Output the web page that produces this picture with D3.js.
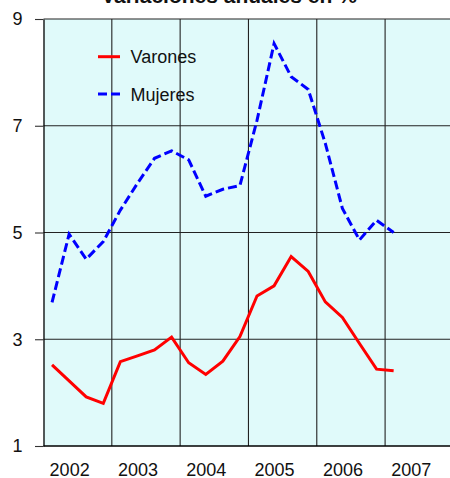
<!DOCTYPE html>
<html>
<head>
<meta charset="utf-8">
<script src="https://cdn.jsdelivr.net/npm/d3@7"></script>
<style>
  html, body { margin: 0; padding: 0; background: #fff; }
  svg { display: block; font-family: Arial, "Liberation Sans", sans-serif; }
</style>
</head>
<body>
<svg id="chart" width="450" height="478"></svg>
<script>
// Quarterly series, 2002-I to 2007-I (annual % change)
const quarters = [
  "2002-I","2002-II","2002-III","2002-IV",
  "2003-I","2003-II","2003-III","2003-IV",
  "2004-I","2004-II","2004-III","2004-IV",
  "2005-I","2005-II","2005-III","2005-IV",
  "2006-I","2006-II","2006-III","2006-IV",
  "2007-I"
];
const varones = [2.52, 2.22, 1.92, 1.80, 2.58, 2.69, 2.80, 3.04, 2.56, 2.34, 2.59,
                 3.05, 3.81, 4.00, 4.55, 4.27, 3.70, 3.41, 2.92, 2.44, 2.41];
const mujeres = [3.69, 4.97, 4.50, 4.83, 5.42, 5.92, 6.39, 6.53, 6.36, 5.68, 5.81,
                 5.88, 7.10, 8.54, 7.92, 7.68, 6.67, 5.45, 4.86, 5.23, 5.00];
const years = ["2002","2003","2004","2005","2006","2007"];
const yTicks = [1, 3, 5, 7, 9];
const title = "Variaciones anuales en %";

const svg = d3.select("#chart");
const plotLeft = 43.5, plotTop = 19, plotBottom = 446;
const qWidth = 17.08;
const plotRight = plotLeft + years.length * 4 * qWidth;

// x runs over quarter slots; each point sits in the middle of its slot
const x = d3.scaleLinear().domain([0, years.length * 4]).range([plotLeft, plotRight]);
const y = d3.scaleLinear().domain([1, 9]).range([plotBottom, plotTop]);

// plot background
svg.append("rect")
  .attr("x", plotLeft).attr("y", plotTop)
  .attr("width", plotRight - plotLeft).attr("height", plotBottom - plotTop)
  .attr("fill", "#e0fafa");

// horizontal grid
svg.append("g")
  .selectAll("line")
  .data(yTicks.slice(1))
  .join("line")
  .attr("x1", plotLeft).attr("x2", plotRight)
  .attr("y1", d => y(d)).attr("y2", d => y(d))
  .attr("stroke", "#222").attr("stroke-width", 1.1);

// vertical grid at year boundaries
svg.append("g")
  .selectAll("line")
  .data(d3.range(1, years.length))
  .join("line")
  .attr("x1", d => x(d * 4)).attr("x2", d => x(d * 4))
  .attr("y1", plotTop).attr("y2", plotBottom)
  .attr("stroke", "#222").attr("stroke-width", 1.1);

// y axis
const yAxis = svg.append("g")
  .attr("transform", `translate(${plotLeft},0)`)
  .call(d3.axisLeft(y).tickValues(yTicks).tickSize(8.5).tickPadding(12.5).tickSizeOuter(0));
yAxis.select(".domain").attr("stroke", "#000").attr("stroke-width", 1.3);
yAxis.selectAll(".tick line").attr("stroke", "#333").attr("stroke-width", 1.1);
yAxis.selectAll(".tick text")
  .attr("font-size", 18).attr("fill", "#111")
  .attr("font-family", "Arial, 'Liberation Sans', sans-serif");

// x axis: year labels
const xAxis = svg.append("g")
  .attr("transform", `translate(0,${plotBottom})`)
  .call(d3.axisBottom(x)
    .tickValues(years.map((d, i) => i * 4 + 1.5))
    .tickFormat((d, i) => years[i])
    .tickSize(0).tickPadding(17));
xAxis.select(".domain").remove();
xAxis.selectAll(".tick text")
  .attr("font-size", 18).attr("fill", "#111")
  .attr("font-family", "Arial, 'Liberation Sans', sans-serif");

// bottom axis line
svg.append("line")
  .attr("x1", plotLeft).attr("x2", plotRight)
  .attr("y1", plotBottom).attr("y2", plotBottom)
  .attr("stroke", "#000").attr("stroke-width", 1.3);

// series lines
const line = d3.line().x((d, i) => x(i + 0.5)).y(d => y(d));
svg.append("path")
  .datum(varones)
  .attr("d", line)
  .attr("fill", "none").attr("stroke", "#ff0000")
  .attr("stroke-width", 3).attr("stroke-linejoin", "miter");
svg.append("path")
  .datum(mujeres)
  .attr("d", line)
  .attr("fill", "none").attr("stroke", "#0000ff")
  .attr("stroke-width", 3).attr("stroke-dasharray", "9,4");

// legend
const legend = [
  { name: "Varones", color: "#ff0000", dash: null, y: 56.7 },
  { name: "Mujeres", color: "#0000ff", dash: "9,4", y: 94 }
];
const lg = svg.append("g").selectAll("g").data(legend).join("g");
lg.append("line")
  .attr("x1", 98).attr("x2", 120)
  .attr("y1", d => d.y).attr("y2", d => d.y)
  .attr("stroke", d => d.color).attr("stroke-width", 3)
  .attr("stroke-dasharray", d => d.dash);
lg.append("text")
  .attr("x", 130.5).attr("y", d => d.y + 6.5)
  .attr("font-size", 18).attr("fill", "#111")
  .text(d => d.name);

// title (partly above the frame)
svg.append("text")
  .attr("x", 229).attr("y", 3)
  .attr("text-anchor", "middle")
  .attr("font-size", 21).attr("font-weight", "bold").attr("fill", "#111")
  .text(title);
</script>
</body>
</html>
